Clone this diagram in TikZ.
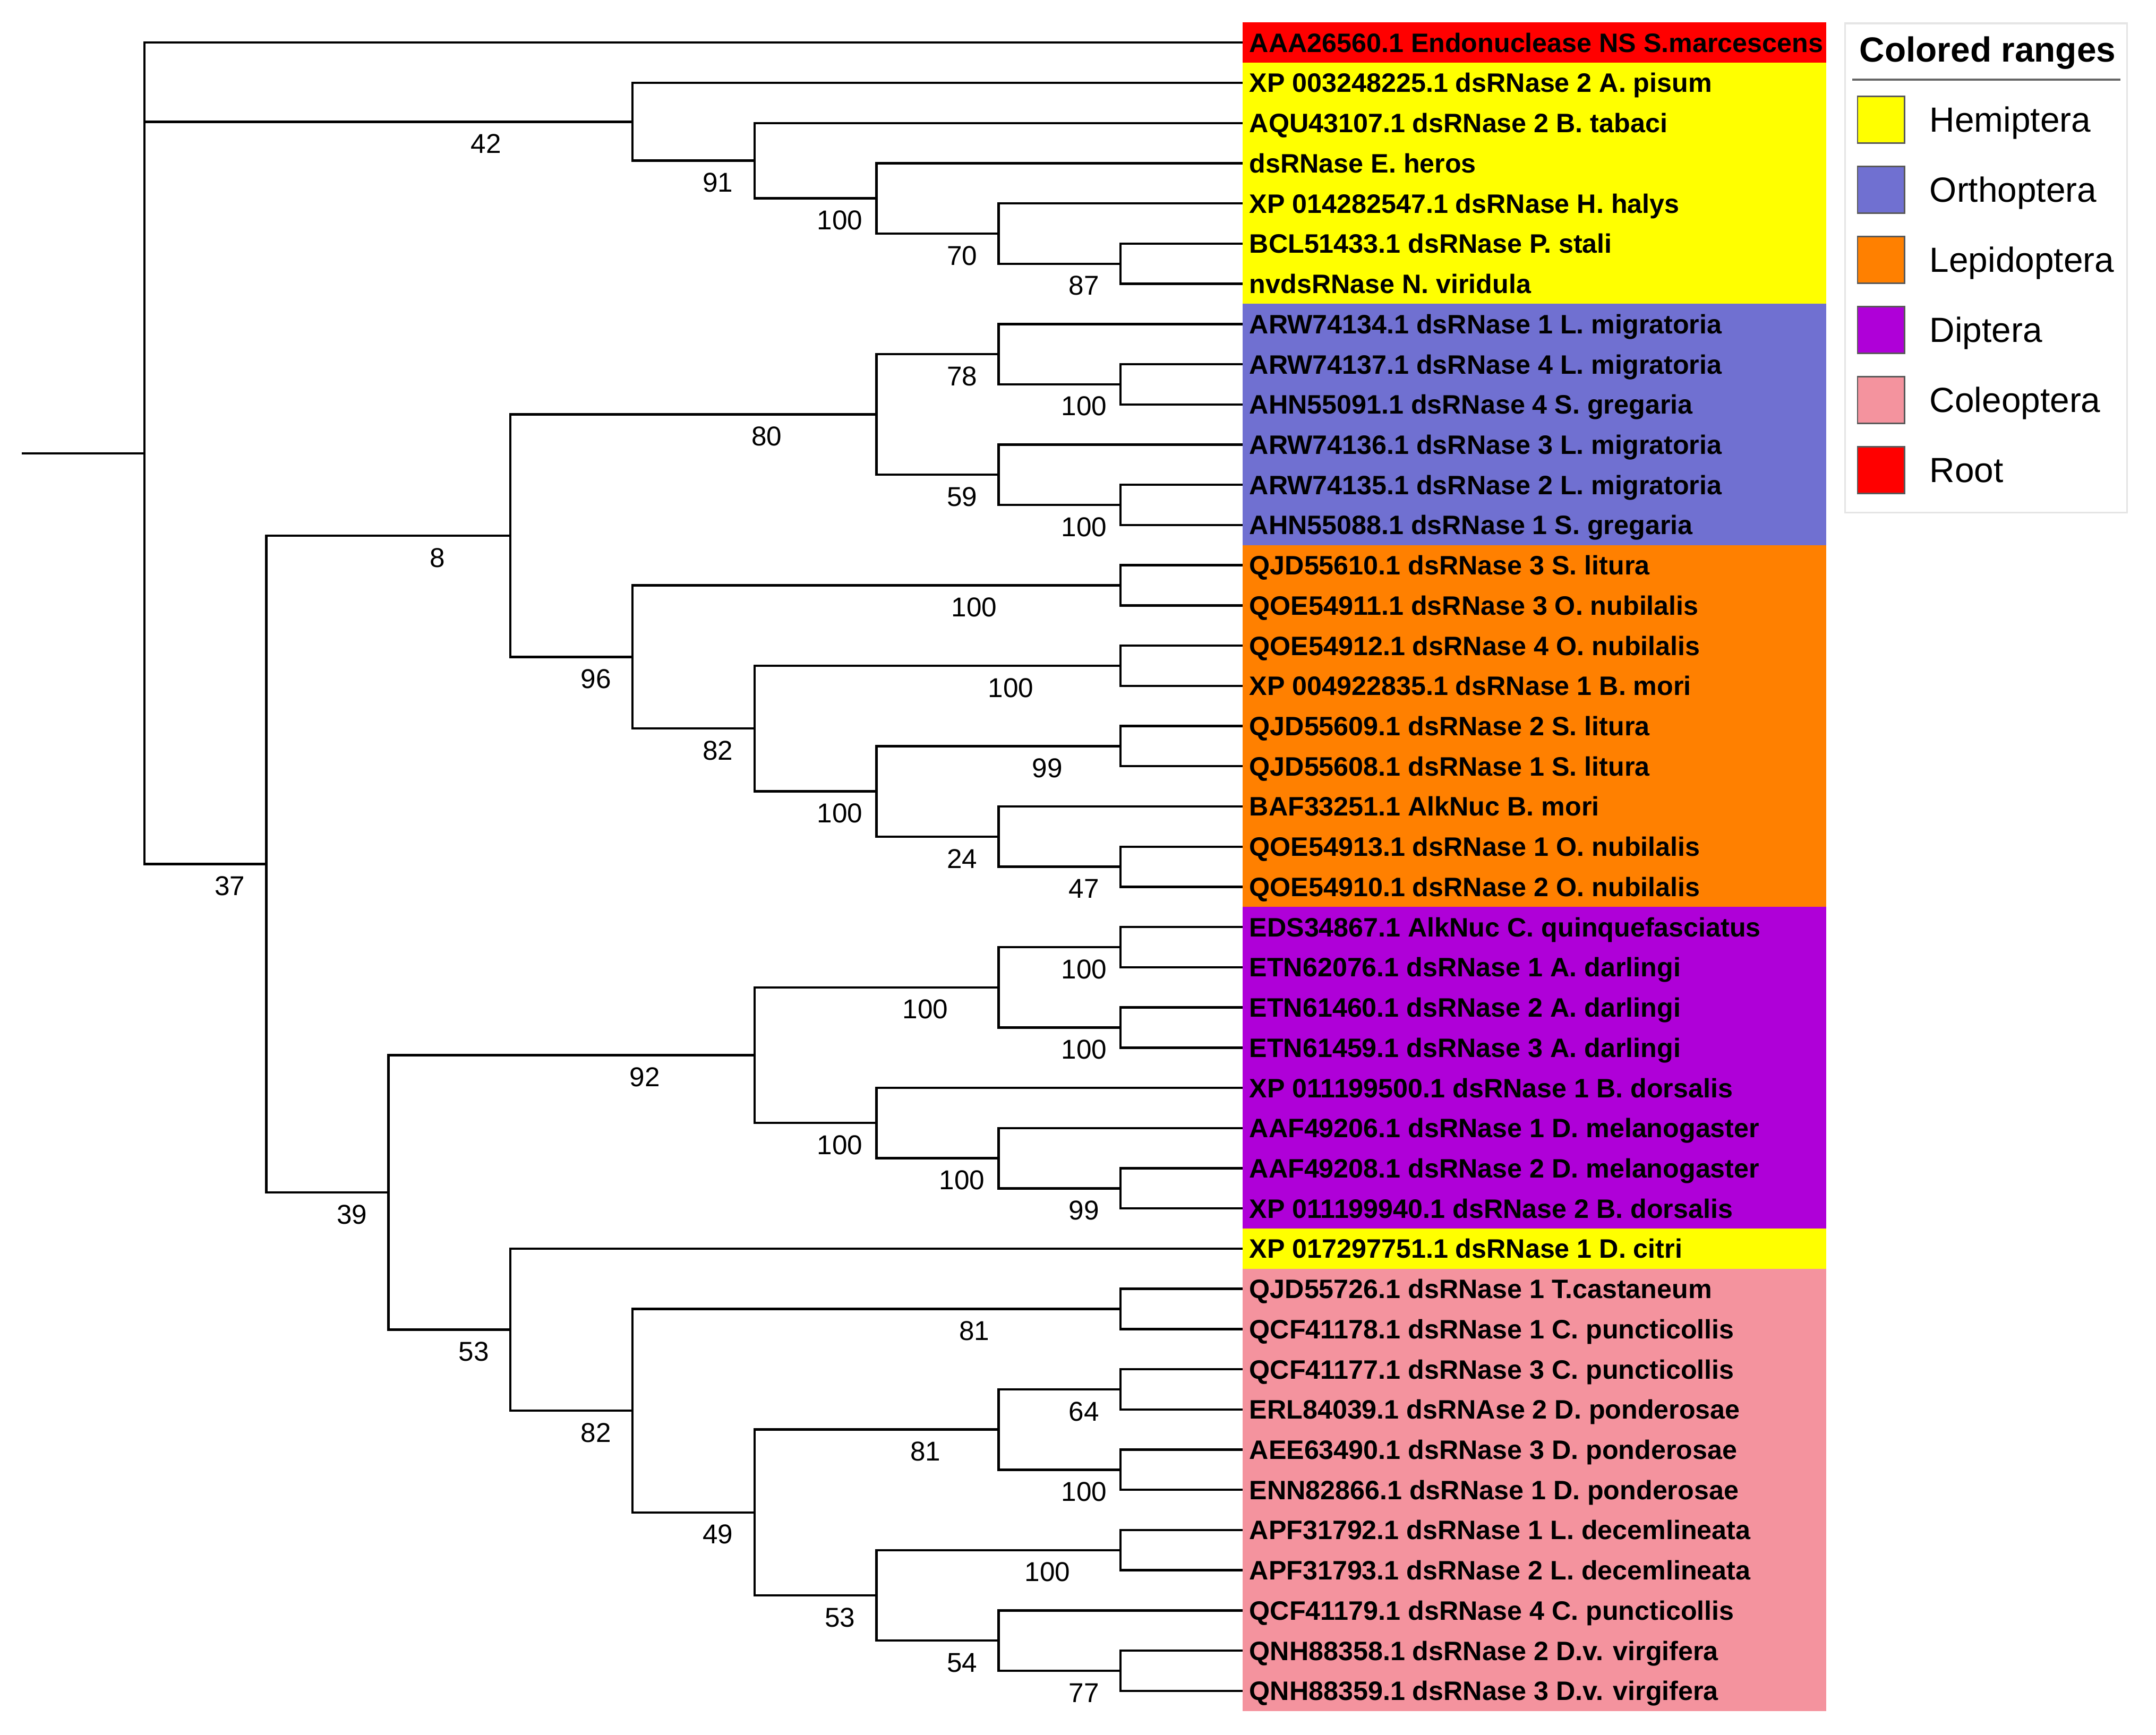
\documentclass[tikz,border=0pt]{standalone}
\usepackage{fontspec}
\setmainfont{Liberation Sans}
\usetikzlibrary{calc}
\definecolor{hemi}{HTML}{FFFF00}
\definecolor{orth}{HTML}{7070D1}
\definecolor{lepi}{HTML}{FF8000}
\definecolor{dipt}{HTML}{AF00D8}
\definecolor{cole}{HTML}{F4939E}
\definecolor{rootc}{HTML}{FF0000}
\newcommand\mkclade[4]{%
  \coordinate (tmp) at ($(#3)!0.5!(#4)$);
  \coordinate (#1) at (#2 |- tmp);
  \draw[br] (#3) -| (#1) |- (#4);}
\newcommand\bslab[4]{%
  \path (#1 |- #2) -- (#2) node[bs, pos=0.7, yshift=-8pt] (#3) {#4};}
\begin{document}
\begin{tikzpicture}[x=0.5pt,y=-0.5pt,
  br/.style={line width=0.85pt, line join=miter},
  leaflab/.style={anchor=base west, inner sep=0pt, font=\fontsize{9.7pt}{10pt}\selectfont\bfseries},
  bs/.style={inner sep=0pt, font=\fontsize{9.9pt}{10pt}\selectfont},
  legtxt/.style={anchor=base west, inner sep=0pt, font=\fontsize{12.7pt}{14pt}\selectfont},
  legsq/.style={draw=black!65, line width=0.5pt},
]
\useasboundingbox (0,0) rectangle (1568,1262.1);
% levels
\foreach \k/\xx in {0/105,1/193.75,2/282.5,3/371.25,4/460,5/548.75,6/637.5,7/726.25,8/815}
  \coordinate (X\k) at (\xx,0);
\foreach \i in {0,...,41}
  \coordinate (l\i) at (903.75,{31+29.244*\i});
% colored ranges
\def\bw{424.25}
\fill[rootc] ($(l0)+(0,-14.62)$) rectangle ($(l0)+(\bw,14.62)$);
\fill[hemi] ($(l1)+(0,-14.62)$) rectangle ($(l6)+(\bw,14.62)$);
\fill[orth] ($(l7)+(0,-14.62)$) rectangle ($(l12)+(\bw,14.62)$);
\fill[lepi] ($(l13)+(0,-14.62)$) rectangle ($(l21)+(\bw,14.62)$);
\fill[dipt] ($(l22)+(0,-14.62)$) rectangle ($(l29)+(\bw,14.62)$);
\fill[hemi] ($(l30)+(0,-14.62)$) rectangle ($(l30)+(\bw,14.62)$);
\fill[cole] ($(l31)+(0,-14.62)$) rectangle ($(l41)+(\bw,14.62)$);
% leaf labels
\foreach \i/\t in {
 0/AAA26560.1 Endonuclease NS S.marcescens,
 1/XP 003248225.1 dsRNase 2 A. pisum,
 2/AQU43107.1 dsRNase 2 B. tabaci,
 3/dsRNase E. heros,
 4/XP 014282547.1 dsRNase H. halys,
 5/BCL51433.1 dsRNase P. stali,
 6/nvdsRNase N. viridula,
 7/ARW74134.1 dsRNase 1 L. migratoria,
 8/ARW74137.1 dsRNase 4 L. migratoria,
 9/AHN55091.1 dsRNase 4 S. gregaria,
 10/ARW74136.1 dsRNase 3 L. migratoria,
 11/ARW74135.1 dsRNase 2 L. migratoria,
 12/AHN55088.1 dsRNase 1 S. gregaria,
 13/QJD55610.1 dsRNase 3 S. litura,
 14/QOE54911.1 dsRNase 3 O. nubilalis,
 15/QOE54912.1 dsRNase 4 O. nubilalis,
 16/XP 004922835.1 dsRNase 1 B. mori,
 17/QJD55609.1 dsRNase 2 S. litura,
 18/QJD55608.1 dsRNase 1 S. litura,
 19/BAF33251.1 AlkNuc B. mori,
 20/QOE54913.1 dsRNase 1 O. nubilalis,
 21/QOE54910.1 dsRNase 2 O. nubilalis,
 22/EDS34867.1 AlkNuc C. quinquefasciatus,
 23/ETN62076.1 dsRNase 1 A. darlingi,
 24/ETN61460.1 dsRNase 2 A. darlingi,
 25/ETN61459.1 dsRNase 3 A. darlingi,
 26/XP 011199500.1 dsRNase 1 B. dorsalis,
 27/AAF49206.1 dsRNase 1 D. melanogaster,
 28/AAF49208.1 dsRNase 2 D. melanogaster,
 29/XP 011199940.1 dsRNase 2 B. dorsalis,
 30/XP 017297751.1 dsRNase 1 D. citri,
 31/QJD55726.1 dsRNase 1 T.castaneum,
 32/QCF41178.1 dsRNase 1 C. puncticollis,
 33/QCF41177.1 dsRNase 3 C. puncticollis,
 34/ERL84039.1 dsRNAse 2 D. ponderosae,
 35/AEE63490.1 dsRNase 3 D. ponderosae,
 36/ENN82866.1 dsRNase 1 D. ponderosae,
 37/APF31792.1 dsRNase 1 L. decemlineata,
 38/APF31793.1 dsRNase 2 L. decemlineata,
 39/QCF41179.1 dsRNase 4 C. puncticollis,
 40/QNH88358.1 dsRNase 2 D.v. virgifera,
 41/QNH88359.1 dsRNase 3 D.v. virgifera}
  \node[leaflab] (t\i) at ($(l\i)+(4.5,6.95)$) {\t};
% Hemiptera clade
\mkclade{n87}{X8}{l5}{l6}
\mkclade{n70}{X7}{l4}{n87}
\mkclade{n100a}{X6}{l3}{n70}
\mkclade{n91}{X5}{l2}{n100a}
\mkclade{n42}{X4}{l1}{n91}
\bslab{X7}{n87}{b87}{87}
\bslab{X6}{n70}{b70}{70}
\bslab{X5}{n100a}{b100a}{100}
\bslab{X4}{n91}{b91}{91}
\bslab{X0}{n42}{b42}{42}
% Orthoptera
\mkclade{n100b}{X8}{l8}{l9}
\mkclade{n78}{X7}{l7}{n100b}
\mkclade{n100c}{X8}{l11}{l12}
\mkclade{n59}{X7}{l10}{n100c}
\mkclade{n80}{X6}{n78}{n59}
\bslab{X7}{n100b}{b100b}{100}
\bslab{X6}{n78}{b78}{78}
\bslab{X7}{n100c}{b100c}{100}
\bslab{X6}{n59}{b59}{59}
\bslab{X3}{n80}{b80}{80}
% Lepidoptera
\mkclade{n100d}{X8}{l13}{l14}
\mkclade{n100e}{X8}{l15}{l16}
\mkclade{n99}{X8}{l17}{l18}
\mkclade{n47}{X8}{l20}{l21}
\mkclade{n24}{X7}{l19}{n47}
\mkclade{n100f}{X6}{n99}{n24}
\mkclade{n82a}{X5}{n100e}{n100f}
\mkclade{n96}{X4}{n100d}{n82a}
\mkclade{n8}{X3}{n80}{n96}
\bslab{X4}{n100d}{b100d}{100}
\bslab{X5}{n100e}{b100e}{100}
\bslab{X6}{n99}{b99}{99}
\bslab{X7}{n47}{b47}{47}
\bslab{X6}{n24}{b24}{24}
\bslab{X5}{n100f}{b100f}{100}
\bslab{X4}{n82a}{b82a}{82}
\bslab{X3}{n96}{b96}{96}
\bslab{X1}{n8}{b8}{8}
% Diptera
\mkclade{n100i}{X8}{l22}{l23}
\mkclade{n100j}{X8}{l24}{l25}
\mkclade{n100g}{X7}{n100i}{n100j}
\mkclade{n99b}{X8}{l28}{l29}
\mkclade{n100k}{X7}{l27}{n99b}
\mkclade{n100h}{X6}{l26}{n100k}
\mkclade{n92}{X5}{n100g}{n100h}
\bslab{X7}{n100i}{b100i}{100}
\bslab{X7}{n100j}{b100j}{100}
\bslab{X5}{n100g}{b100g}{100}
\bslab{X7}{n99b}{b99b}{99}
\bslab{X6}{n100k}{b100k}{100}
\bslab{X5}{n100h}{b100h}{100}
\bslab{X2}{n92}{b92}{92}
% Coleoptera
\mkclade{n81a}{X8}{l31}{l32}
\mkclade{n64}{X8}{l33}{l34}
\mkclade{n100l}{X8}{l35}{l36}
\mkclade{n81b}{X7}{n64}{n100l}
\mkclade{n100m}{X8}{l37}{l38}
\mkclade{n77}{X8}{l40}{l41}
\mkclade{n54}{X7}{l39}{n77}
\mkclade{n53b}{X6}{n100m}{n54}
\mkclade{n49}{X5}{n81b}{n53b}
\mkclade{n82b}{X4}{n81a}{n49}
\mkclade{n53}{X3}{l30}{n82b}
\mkclade{n39}{X2}{n92}{n53}
\mkclade{n37}{X1}{n8}{n39}
\bslab{X4}{n81a}{b81a}{81}
\bslab{X7}{n64}{b64}{64}
\bslab{X7}{n100l}{b100l}{100}
\bslab{X5}{n81b}{b81b}{81}
\bslab{X6}{n100m}{b100m}{100}
\bslab{X7}{n77}{b77}{77}
\bslab{X6}{n54}{b54}{54}
\bslab{X5}{n53b}{b53b}{53}
\bslab{X4}{n49}{b49}{49}
\bslab{X3}{n82b}{b82b}{82}
\bslab{X2}{n53}{b53}{53}
\bslab{X1}{n39}{b39}{39}
\bslab{X0}{n37}{b37}{37}
% root
\coordinate (tmp) at ($(l0)!0.5!(n37)$);
\coordinate (root) at (X0 |- tmp);
\coordinate (stub) at (16,0);
\draw[br] (l0) -| (root) |- (n37);
\draw[br] (root |- n42) -- (n42);
\draw[br] (stub |- root) -- (root);
% legend
\draw[draw=black!10, fill=white, line width=0.6pt] (1342,17) rectangle (1547,373);
\node[legtxt, font=\fontsize{12.7pt}{14pt}\selectfont\bfseries] (legtitle) at (1352,45) {Colored ranges};
\draw[black!60, line width=0.7pt] (1347,58) -- (1542,58);
\foreach \k/\c/\t in {0/hemi/Hemiptera,1/orth/Orthoptera,2/lepi/Lepidoptera,3/dipt/Diptera,4/cole/Coleoptera,5/rootc/Root}{
  \draw[legsq, fill=\c] (1351,{70+51*\k}) rectangle (1385,{104+51*\k});
  \node[legtxt] (leg\k) at (1403,{96+51*\k}) {\t};
}
\end{tikzpicture}
\end{document}
